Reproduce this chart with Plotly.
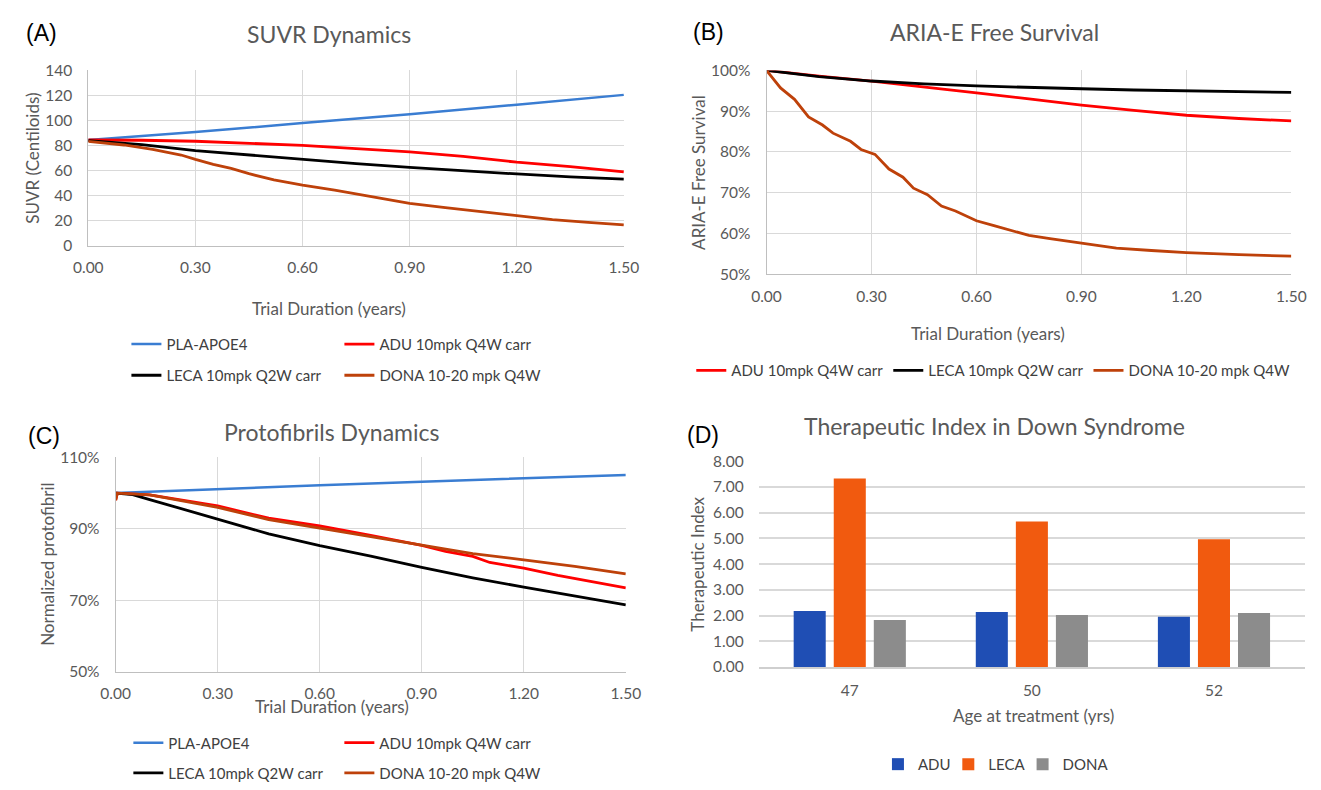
import plotly.graph_objects as go

W, H = 1321, 790

# ---------------- data ----------------
# Panel A: SUVR (Centiloids)
PLA_A_t = [0, 0.3, 0.6, 0.9, 1.2, 1.5]
PLA_A = [84.5, 90.8, 98.0, 105.0, 112.7, 120.5]
ADU_A_t = [0, 0.15, 0.3, 0.45, 0.6, 0.75, 0.9, 1.05, 1.2, 1.35, 1.5]
ADU_A = [84.5, 84.3, 83.5, 81.8, 80.2, 77.6, 75.0, 71.4, 66.8, 63.2, 59.0]
LECA_A_t = [0, 0.15, 0.3, 0.45, 0.6, 0.75, 0.9, 1.05, 1.2, 1.35, 1.5]
LECA_A = [84.0, 80.8, 76.0, 72.5, 69.1, 65.7, 62.6, 59.8, 57.4, 55.1, 53.3]
DONA_A_t = [0, 0.1, 0.18, 0.26, 0.3, 0.35, 0.4, 0.45, 0.52, 0.6, 0.69, 0.78,
            0.9, 1.0, 1.1, 1.2, 1.3, 1.4, 1.5]
DONA_A = [83.4, 80.5, 77.0, 72.5, 69.0, 65.0, 61.8, 57.6, 52.6, 48.4, 44.5, 40.0,
          34.0, 30.5, 27.4, 23.8, 21.0, 18.8, 16.8]

# Panel B: ARIA-E free survival (%)
ADU_B_t = [0, 0.15, 0.3, 0.45, 0.6, 0.75, 0.9, 1.05, 1.2, 1.35, 1.5]
ADU_B = [100, 98.6, 97.4, 96.0, 94.5, 93.0, 91.5, 90.2, 89.0, 88.2, 87.6]
LECA_B_t = [0, 0.15, 0.3, 0.45, 0.6, 0.75, 0.9, 1.05, 1.2, 1.35, 1.5]
LECA_B = [100, 98.5, 97.4, 96.7, 96.2, 95.8, 95.5, 95.2, 95.0, 94.8, 94.6]
DONA_B_t = [0, 0.04, 0.08, 0.12, 0.16, 0.19, 0.24, 0.27, 0.31, 0.35, 0.39, 0.42,
            0.46, 0.5, 0.54, 0.6, 0.65, 0.7, 0.75, 0.81, 0.9, 1.0, 1.1, 1.2, 1.35, 1.5]
DONA_B = [100, 95.7, 92.9, 88.6, 86.6, 84.6, 82.6, 80.6, 79.4, 75.8, 73.8, 71.1,
          69.5, 66.7, 65.5, 63.1, 61.9, 60.7, 59.5, 58.7, 57.6, 56.4, 55.8, 55.3, 54.8, 54.4]

# Panel C: normalized protofibril (%)
PLA_C_t = [0, 0.3, 0.6, 0.9, 1.2, 1.5]
PLA_C = [100, 101.2, 102.2, 103.2, 104.1, 105.1]
ADU_C_t = [0, 0.005, 0.1, 0.2, 0.3, 0.45, 0.6, 0.75, 0.9, 0.97, 1.05, 1.1, 1.2, 1.3, 1.4, 1.5]
ADU_C = [98, 100, 99.5, 98.0, 96.4, 93.0, 90.8, 88.2, 85.4, 83.7, 82.3, 80.6, 79.0, 77.0, 75.2, 73.5]
LECA_C_t = [0, 0.05, 0.1, 0.2, 0.3, 0.45, 0.6, 0.75, 0.9, 1.05, 1.2, 1.35, 1.5]
LECA_C = [100, 99.6, 98.2, 95.5, 92.8, 88.6, 85.3, 82.4, 79.2, 76.3, 73.7, 71.3, 68.7]
DONA_C_t = [0, 0.005, 0.1, 0.2, 0.3, 0.45, 0.6, 0.75, 0.9, 1.05, 1.2, 1.35, 1.5]
DONA_C = [98, 100, 99.5, 97.8, 96.0, 92.6, 90.2, 87.8, 85.4, 83.1, 81.3, 79.5, 77.4]

# Panel D: therapeutic index
AGES = ["47", "50", "52"]
TI_ADU = [2.18, 2.14, 1.95]
TI_LECA = [7.33, 5.66, 4.97]
TI_DONA = [1.83, 2.02, 2.10]

X_TICKS = [0, 0.3, 0.6, 0.9, 1.2, 1.5]

# ---------------- styles ----------------
C_PLA = "#3A7DD2"
C_ADU = "#FF0000"
C_LECA = "#000000"
C_DONA = "#BE410A"
B_ADU = "#1F4EB4"
B_LECA = "#F15A0F"
B_DONA = "#8C8C8C"
GRID = "#D9D9D9"
AXL = "#BFBFBF"
TXT = "#595959"
FONT = "Lato"
LW = 2.8


def px(x):
    return x / W


def py(y):
    return 1 - y / H


fig = go.Figure()


def add_line(t, v, name, color, xa, ya, legend, width=LW):
    fig.add_trace(go.Scatter(x=t, y=v, name=name, mode="lines",
                             line=dict(color=color, width=width),
                             xaxis=xa, yaxis=ya, legend=legend))


# Panel A
add_line(PLA_A_t, PLA_A, "PLA-APOE4", C_PLA, "x", "y", "legend", 2.5)
add_line(ADU_A_t, ADU_A, "ADU 10mpk Q4W carr", C_ADU, "x", "y", "legend")
add_line(LECA_A_t, LECA_A, "LECA 10mpk Q2W carr", C_LECA, "x", "y", "legend2")
add_line(DONA_A_t, DONA_A, "DONA 10-20 mpk Q4W", C_DONA, "x", "y", "legend2")
# Panel B
add_line(ADU_B_t, ADU_B, "ADU 10mpk Q4W carr", C_ADU, "x2", "y2", "legend3")
add_line(LECA_B_t, LECA_B, "LECA 10mpk Q2W carr", C_LECA, "x2", "y2", "legend3")
add_line(DONA_B_t, DONA_B, "DONA 10-20 mpk Q4W", C_DONA, "x2", "y2", "legend3")
# Panel C
add_line(PLA_C_t, PLA_C, "PLA-APOE4", C_PLA, "x3", "y3", "legend4", 2.5)
add_line(ADU_C_t, ADU_C, "ADU 10mpk Q4W carr", C_ADU, "x3", "y3", "legend4")
add_line(LECA_C_t, LECA_C, "LECA 10mpk Q2W carr", C_LECA, "x3", "y3", "legend5")
add_line(DONA_C_t, DONA_C, "DONA 10-20 mpk Q4W", C_DONA, "x3", "y3", "legend5")
# Panel D
for name, vals, col, lg in [("ADU", TI_ADU, B_ADU, "legend6"), ("LECA", TI_LECA, B_LECA, "legend7"),
                            ("DONA", TI_DONA, B_DONA, "legend8")]:
    fig.add_trace(go.Bar(x=AGES, y=vals, name=name, marker=dict(color=col, line=dict(width=0)),
                         xaxis="x4", yaxis="y4", legend=lg))

tickfont = dict(family=FONT, size=15.5, color=TXT)


def xax(domain, anchor):
    return dict(domain=domain, anchor=anchor, range=[0, 1.5], tickvals=X_TICKS,
                tickformat=".2f", showgrid=True, gridcolor=GRID, gridwidth=1,
                showline=True, linecolor=AXL, linewidth=1, zeroline=False,
                ticks="", tickfont=tickfont, ticklabelstandoff=8, fixedrange=True)


def yax(domain, anchor, rng, dtick, suffix="", fmt=None):
    d = dict(domain=domain, anchor=anchor, range=rng, dtick=dtick, tick0=rng[0],
             showgrid=True, gridcolor=GRID, gridwidth=1, showline=True, linecolor=AXL,
             linewidth=1, zeroline=False, ticks="", tickfont=tickfont,
             ticksuffix=suffix, ticklabelstandoff=12, fixedrange=True)
    if fmt:
        d["tickformat"] = fmt
    return d


legfont = dict(family=FONT, size=15, color="#404040")


def leg(x, y, xanchor="left", entrywidth=None):
    d = dict(orientation="h", x=px(x), y=py(y), xanchor=xanchor, yanchor="middle",
             xref="paper", yref="paper", font=legfont, bgcolor="rgba(0,0,0,0)",
             borderwidth=0, tracegroupgap=0, itemclick=False, itemdoubleclick=False)
    if entrywidth:
        d["entrywidth"] = entrywidth
        d["entrywidthmode"] = "pixels"
    return d


fig.update_layout(
    width=W, height=H, margin=dict(l=0, r=0, t=0, b=0),
    paper_bgcolor="white", plot_bgcolor="white",
    showlegend=True,
    xaxis=xax([px(75), px(623)], "y"),
    yaxis=yax([py(242), py(62)], "x", [0, 140], 20),
    xaxis2=xax([px(769), px(1306)], "y2"),
    yaxis2=yax([py(271), py(62)], "x2", [50, 100], 10, "%"),
    xaxis3=xax([px(103), px(625)], "y3"),
    yaxis3=yax([py(679), py(459)], "x3", [50, 110], 20, "%"),
    xaxis4=dict(domain=[px(761), px(1320)], anchor="y4", showgrid=False, showline=True,
                linecolor="#CFCFCF", linewidth=2, ticks="", tickfont=tickfont,
                ticklabelstandoff=8, fixedrange=True),
    yaxis4=dict(domain=[py(674), py(463)], anchor="x4", range=[0, 8], dtick=1,
                tickformat=".2f", showgrid=True, gridcolor=GRID, gridwidth=1.5,
                showline=False, zeroline=False, ticks="", tickfont=tickfont,
                ticklabelstandoff=14, fixedrange=True),
    bargap=0.34, bargroupgap=0.2,
    legend=leg(114, 343, entrywidth=168),
    legend2=leg(114, 375, entrywidth=168),
    legend3=leg(692, 370),
    legend4=leg(116, 752, entrywidth=166),
    legend5=leg(116, 783, entrywidth=166),
    legend6=leg(883, 774),
    legend7=leg(955, 774),
    legend8=leg(1031, 774),
)

ann = []


def text(x, y, s, size, color=TXT, family=FONT, angle=0):
    ann.append(dict(x=px(x), y=py(y), xref="paper", yref="paper", text=s, showarrow=False,
                    xanchor="center", yanchor="middle", textangle=angle,
                    font=dict(family=family, size=size, color=color)))


LET = "Liberation Sans, Arial"
text(27, 24, "(A)", 23, "#000000", LET)
text(321, 25, "SUVR Dynamics", 23)
text(321, 306, "Trial Duration (years)", 17)
text(18, 152, "SUVR (Centiloids)", 17, angle=-90)

text(710, 23, "(B)", 23, "#000000", LET)
text(1002, 23, "ARIA-E Free Survival", 23)
text(996, 332, "Trial Duration (years)", 17)
text(700, 167, "ARIA-E Free Survival", 17, angle=-90)

text(30, 437, "(C)", 23, "#000000", LET)
text(324, 433, "Protofibrils Dynamics", 23)
text(324, 715, "Trial Duration (years)", 17)
text(33, 569, "Normalized protofibril", 17, angle=-90)

text(704, 436, "(D)", 23, "#000000", LET)
text(1002, 427, "Therapeutic Index in Down Syndrome", 23)
text(1042, 724, "Age at treatment (yrs)", 17)
text(698, 569, "Therapeutic Index", 17, angle=-90)

fig.update_layout(annotations=ann)

fig.write_html("out.html",
               post_script="document.body.style.margin='0px';document.body.style.padding='0px';"
                           "document.body.style.overflow='hidden';")
